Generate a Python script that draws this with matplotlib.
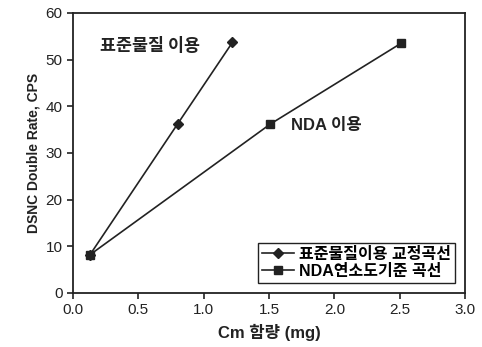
import matplotlib
matplotlib.use("Agg")
import matplotlib.pyplot as plt

plt.rcParams['font.family'] = ['Liberation Sans', 'Noto Sans CJK KR']

# data
std_x = [0.13, 0.80, 1.22]
std_y = [8.2, 36.2, 53.7]
nda_x = [0.13, 1.51, 2.51]
nda_y = [8.2, 36.2, 53.5]

std_label = '표준물질이용 교정곡선'
nda_label = 'NDA연소도기준 곡선'

fig = plt.figure(figsize=(4.82, 3.47), dpi=100)
ax = fig.add_axes([73/482, 1-293/347, (465-73)/482, (293-13)/347])

ax.plot(std_x, std_y, color='#222222', lw=1.2, marker='D', ms=5,
        label=std_label)
ax.plot(nda_x, nda_y, color='#222222', lw=1.2, marker='s', ms=6,
        label=nda_label)

ax.set_xlim(0, 3.0)
ax.set_ylim(0, 60)
ax.set_xticks([0.0, 0.5, 1.0, 1.5, 2.0, 2.5, 3.0])
ax.set_xticklabels(['0.0', '0.5', '1.0', '1.5', '2.0', '2.5', '3.0'])
ax.set_yticks(range(0, 61, 10))
ax.tick_params(direction='out', length=4, width=1.2, labelsize=11,
               colors='#222222')
for s in ax.spines.values():
    s.set_linewidth(1.3)
    s.set_color('#222222')

ax.set_xlabel('Cm 함량 (mg)', fontsize=12, fontweight='bold',
              color='#222222', labelpad=5)
ax.set_ylabel('DSNC Double Rate, CPS', fontsize=10, fontweight='bold',
              color='#222222', labelpad=4)

ax.text(0.21, 51.8, '표준물질 이용', fontsize=12.5, fontweight='bold',
        color='#222222', family=['Noto Sans CJK KR'])
ax.text(1.67, 35.0, 'NDA 이용', fontsize=12, fontweight='bold',
        color='#222222', family=['Liberation Sans', 'Noto Sans CJK KR'])

leg = ax.legend(loc='lower right', fancybox=False, edgecolor='#222222',
                handlelength=2.0, borderpad=0.25, labelspacing=0.15,
                handletextpad=0.3, prop={'weight': 'bold', 'size': 11.5},
                bbox_to_anchor=(0.974, 0.036), borderaxespad=0,
                framealpha=1)
leg.get_frame().set_linewidth(1.0)

fig.savefig('out.png', dpi=100)
